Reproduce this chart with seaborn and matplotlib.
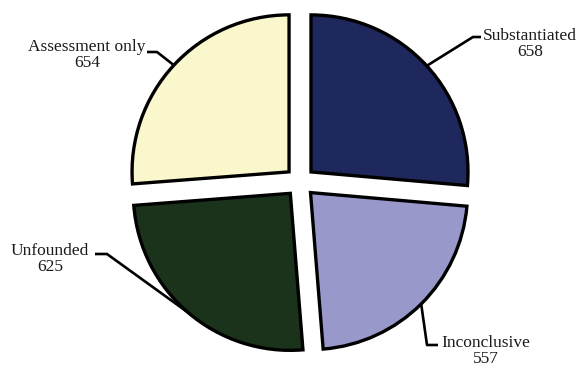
import numpy as np
import matplotlib
matplotlib.use("Agg")
import matplotlib.pyplot as plt
import seaborn as sns

# Case outcomes
categories = ["Substantiated", "Inconclusive", "Unfounded", "Assessment only"]
counts = [658, 557, 625, 654]
colors = ["#1F285C", "#9898CB", "#1A331A", "#FAF7CD"]

sns.set_theme(style="white")
plt.rcParams["font.family"] = ["Liberation Serif", "DejaVu Serif"]

W, H = 580, 369
fig = plt.figure(figsize=(W / 100, H / 100), dpi=100)
ax = fig.add_axes([0, 0, 1, 1])

S = 157.0          # pixels per unit radius
cx, cy = 300, 182  # pie centre in pixels


def px(x, y):
    return ((x - cx) / S, (cy - y) / S)


wedges, _ = ax.pie(
    counts,
    colors=colors,
    startangle=90,
    counterclock=False,
    explode=[0.095] * len(counts),
    radius=1.0,
    wedgeprops=dict(edgecolor="black", linewidth=2.4),
)

# label text centres and leader-line elbows (pixel positions)
label_pos = [(530, 44), (486, 351), (50, 259), (87, 55)]
elbows = [
    [(473, 37), (481, 37)],
    [(427, 345), (438, 345)],
    [(107, 254), (95, 254)],
    [(157, 52), (147, 52)],
]

for w, cat, n, lp, elb in zip(wedges, categories, counts, label_pos, elbows):
    mid = np.deg2rad((w.theta1 + w.theta2) / 2)
    x0 = w.center[0] + w.r * np.cos(mid)
    y0 = w.center[1] + w.r * np.sin(mid)
    pts = [(x0, y0)] + [px(*p) for p in elb]
    xs, ys = zip(*pts)
    ax.plot(xs, ys, color="black", lw=1.9, solid_capstyle="butt", zorder=3)
    tx, ty = px(*lp)
    ax.text(tx, ty, f"{cat}\n{n}", ha="center", va="center",
            fontsize=12.5, color="#1a1a1a", linespacing=1.0)

ax.set_xlim(-cx / S, (W - cx) / S)
ax.set_ylim(-(H - cy) / S, cy / S)
ax.set_aspect("auto")
ax.axis("off")

fig.savefig("out.png", dpi=100)
